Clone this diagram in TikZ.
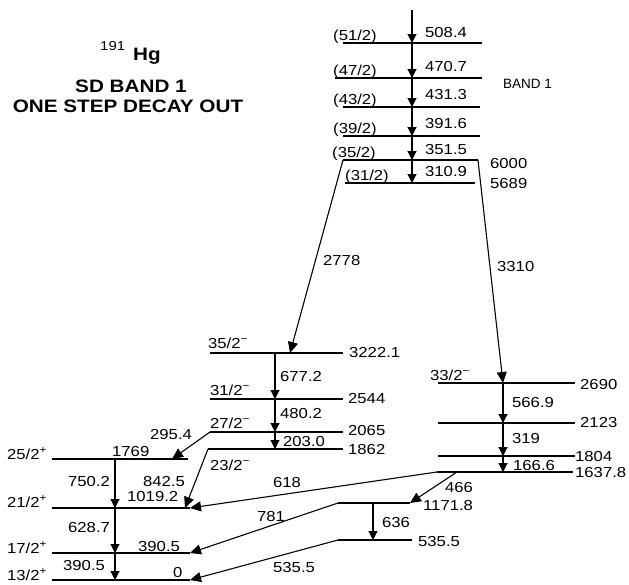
\documentclass[tikz,border=0pt]{standalone}
\usepackage{fontspec}
\setmainfont{Liberation Sans}[FakeStretch=1.15]
\usetikzlibrary{arrows.meta}
\newcommand{\drawlevel}[4]{% name, y, left x, right x
  \coordinate (#1-l) at (#3,#2);
  \coordinate (#1-r) at (#4,#2);
  \draw[lvl] (#1-l) -- (#1-r);}

\begin{document}
\begin{tikzpicture}[x=1pt, y=-1pt,
    every node/.style={font=\fontsize{14.5}{15}\selectfont, inner sep=0pt, anchor=base west},
    lvl/.style={line width=1.4pt},
    gam/.style={line width=1.1pt, -{Triangle[length=9pt,width=9pt]}},
    trn/.style={line width=1.1pt, -{Triangle[length=11pt,width=10pt]}},
    ttl/.style={font=\fontsize{18}{18}\selectfont\bfseries, anchor=center}]
\useasboundingbox (0,0) rectangle (629,584);

% title
\node[font=\fontsize{13}{13}\selectfont] (massno) at (100,50) {191};
\node[font=\fontsize{18}{18}\selectfont\bfseries] (hg) at (133,60) {Hg};
\node[ttl] (sdtitle) at (131,86) {SD BAND 1};
\node[ttl] (decaytitle) at (128,106) {ONE STEP DECAY OUT};
\node[font=\fontsize{13.5}{14}\selectfont\addfontfeature{FakeStretch=1.0}] (bandname) at (503,88) {BAND 1};

% superdeformed band
\drawlevel{sd51}{43}{343}{482}
\drawlevel{sd47}{78}{335}{482}
\drawlevel{sd43}{107}{343}{480}
\drawlevel{sd39}{136}{343}{480}
\drawlevel{sd35}{160}{343}{478}
\drawlevel{sd31}{183}{345}{475}
\coordinate (sdtop) at (412,10);
\draw[gam] (sdtop) -- (sdtop |- sd51-l);
\draw[gam] (sdtop |- sd51-l) -- (sdtop |- sd47-l);
\draw[gam] (sdtop |- sd47-l) -- (sdtop |- sd43-l);
\draw[gam] (sdtop |- sd43-l) -- (sdtop |- sd39-l);
\draw[gam] (sdtop |- sd39-l) -- (sdtop |- sd35-l);
\draw[gam] (sdtop |- sd35-l) -- (sdtop |- sd31-l);
\node (j51) at (333,40) {(51/2)};
\node (j47) at (333,75) {(47/2)};
\node (j43) at (333,104) {(43/2)};
\node (j39) at (333,133) {(39/2)};
\node (j35) at (332,157) {(35/2)};
\node (j31) at (345,180) {(31/2)};
\node (g508) at (425,37) {508.4};
\node (g471) at (425,71) {470.7};
\node (g431) at (425,99) {431.3};
\node (g392) at (425,128) {391.6};
\node (g352) at (425,154) {351.5};
\node (g311) at (425,176) {310.9};
\node (en6000) at (490,168) {6000};
\node (en5689) at (490,188) {5689};

% negative parity band (middle)
\drawlevel{e3222}{353}{210}{343}
\drawlevel{e2544}{399}{210}{343}
\drawlevel{e2065}{432}{210}{343}
\drawlevel{e1862}{449}{208}{343}
\coordinate (midtop) at (275,353);
\draw[gam] (midtop) -- (midtop |- e2544-l);
\draw[gam] (midtop |- e2544-l) -- (midtop |- e2065-l);
\draw[gam] (midtop |- e2065-l) -- (midtop |- e1862-l);
\node (j35m) at (208,348) {35/2\textsuperscript{−}};
\node (j31m) at (210,395) {31/2\textsuperscript{−}};
\node (j27m) at (210,428) {27/2\textsuperscript{−}};
\node (j23m) at (210,470) {23/2\textsuperscript{−}};
\node (g677) at (280,381) {677.2};
\node (g480) at (280,418) {480.2};
\node (g203) at (283,446) {203.0};
\node (en3222) at (349,357) {3222.1};
\node (en2544) at (348,403) {2544};
\node (en2065) at (348,435) {2065};
\node (en1862) at (348,454) {1862};

% negative parity band (right)
\drawlevel{e2690}{383}{438}{575}
\drawlevel{e2123}{423}{438}{575}
\drawlevel{e1804}{456}{438}{575}
\drawlevel{e1638}{472}{437}{573}
\coordinate (rtop) at (503,383);
\draw[gam] (rtop) -- (rtop |- e2123-l);
\draw[gam] (rtop |- e2123-l) -- (rtop |- e1804-l);
\draw[gam] (rtop |- e1804-l) -- (rtop |- e1638-l);
\node (j33m) at (430,380) {33/2\textsuperscript{−}};
\node (g567) at (512,407) {566.9};
\node (g319) at (512,443) {319};
\node (g167) at (513,470) {166.6};
\node (en2690) at (580,389) {2690};
\node (en2123) at (580,427) {2123};
\node (en1804) at (575,461) {1804};
\node (en1638) at (575,477) {1637.8};

% intermediate levels
\drawlevel{e1172}{503}{338}{410}
\drawlevel{e536}{540}{338}{412}
\coordinate (e1172a) at (373,503);
\draw[gam] (e1172a) -- (e1172a |- e536-l);
\node (g636) at (382,527) {636};
\node (en1172) at (423,510) {1171.8};
\node (en536) at (418,546) {535.5};

% positive parity band (left)
\drawlevel{e1769}{459}{52}{188}
\drawlevel{e1019}{508}{52}{190}
\drawlevel{e390}{553}{52}{190}
\drawlevel{e0}{580}{52}{190}
\coordinate (ltop) at (115,459);
\draw[gam] (ltop) -- (ltop |- e1019-l);
\draw[gam] (ltop |- e1019-l) -- (ltop |- e390-l);
\draw[gam] (ltop |- e390-l) -- (ltop |- e0-l);
\node (j25p) at (7,459) {25/2\textsuperscript{+}};
\node (j21p) at (7,507) {21/2\textsuperscript{+}};
\node (j17p) at (7,553) {17/2\textsuperscript{+}};
\node (j13p) at (7,580) {13/2\textsuperscript{+}};
\node (g750) at (68,486) {750.2};
\node (g629) at (68,532) {628.7};
\node (g391) at (63,570) {390.5};
\node (en1769) at (112,456) {1769};
\node (en1019) at (127,501) {1019.2};
\node (en390) at (138,551) {390.5};
\node (en0) at (173,577) {0};

% decay-out and linking transitions
\coordinate (in3222) at (290,353);
\coordinate (in1769) at (172,459);
\coordinate (in1019) at (185,508);
\coordinate (out1638) at (457,472);
\draw[trn] (sd35-l) -- (in3222);
\draw[trn] (sd35-r) -- (rtop);
\draw[trn] (e2065-l) -- (in1769);
\draw[trn] (e1862-l) -- (in1019);
\draw[trn] (e1638-l) -- (e1019-r);
\draw[trn] (out1638) -- (e1172-r);
\draw[trn] (e1172-l) -- (e390-r);
\draw[trn] (e536-l) -- (e0-r);
\node (g2778) at (323,265) {2778};
\node (g3310) at (497,271) {3310};
\node (g295) at (150,439) {295.4};
\node (g843) at (143,486) {842.5};
\node (g618) at (273,487) {618};
\node (g466) at (445,492) {466};
\node (g781) at (257,521) {781};
\node (g536) at (273,572) {535.5};
\end{tikzpicture}
\end{document}
